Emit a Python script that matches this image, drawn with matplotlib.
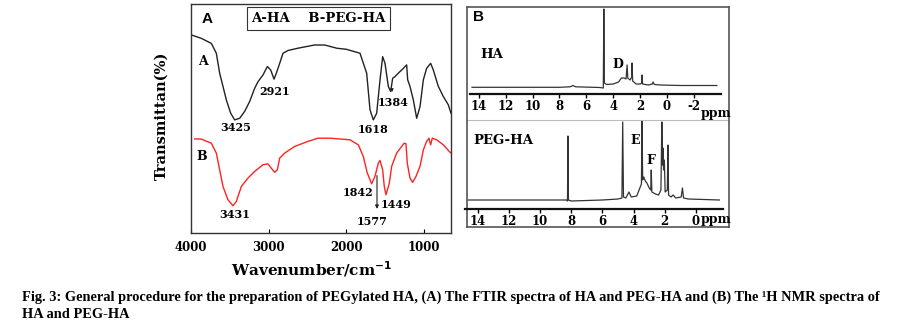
import matplotlib
matplotlib.use("Agg")
import matplotlib.pyplot as plt

# FTIR (panel A): wavenumber / transmittance
ha_wn = [3996, 3867, 3738, 3674, 3631, 3588, 3545, 3489, 3438, 3373, 3309, 3245, 3180, 3137,
         3073, 3017, 2974, 2931, 2901, 2858, 2815, 2751, 2622, 2408, 2279, 2124, 1996, 1824,
         1738, 1695, 1652, 1609, 1566, 1532, 1502, 1459, 1429, 1403, 1373, 1330, 1266, 1223,
         1210, 1180, 1137, 1094, 1051, 1008, 966, 914, 880, 815, 751, 687, 652]
ha_t = [86.5, 85.0, 82.8, 78.5, 69.8, 64.0, 58.1, 52.3, 49.4, 50.1, 53.1, 57.4, 63.2, 66.1,
        69.0, 72.7, 71.2, 67.2, 69.8, 74.1, 78.5, 79.7, 80.7, 82.1, 82.1, 80.7, 80.2, 78.5,
        69.8, 53.8, 49.4, 52.3, 66.9, 77.0, 74.1, 64.0, 61.8, 67.6, 68.3, 69.8, 71.9, 73.4,
        66.9, 64.0, 58.1, 50.1, 55.2, 66.9, 71.9, 74.1, 71.2, 64.0, 59.6, 56.0, 52.3]

peg_wn = [3953, 3867, 3738, 3674, 3631, 3588, 3524, 3459, 3416, 3352, 3266, 3180, 3073, 3009,
          2966, 2923, 2888, 2858, 2794, 2665, 2494, 2365, 2210, 1953, 1845, 1781, 1730, 1674,
          1631, 1588, 1566, 1532, 1511, 1489, 1446, 1416, 1352, 1287, 1257, 1232, 1215, 1180,
          1146, 1103, 1051, 1008, 966, 936, 914, 893, 837, 751, 674, 652]
peg_t = [41.1, 41.0, 39.2, 34.9, 27.6, 20.3, 14.5, 11.9, 13.8, 20.3, 24.0, 26.9, 29.8, 30.2,
         28.3, 26.5, 27.6, 32.7, 34.9, 37.8, 40.0, 41.4, 41.4, 40.7, 38.5, 33.4, 26.2, 21.5,
         24.7, 30.5, 31.7, 27.6, 20.3, 16.7, 21.8, 29.1, 34.9, 37.8, 39.2, 39.0, 30.5, 24.0,
         22.1, 24.7, 29.1, 36.3, 40.0, 41.4, 38.5, 41.4, 40.7, 38.5, 35.6, 34.9]

ir_ticks = [4000, 3000, 2000, 1000]
# peak labels: text, wavenumber, transmittance
ir_labels = ["3425", "2921", "1618", "1384", "3431", "1842", "1449", "1577"]
ir_label_wn = [3421, 2918, 1657, 1399, 3433, 1850, 1360, 1669]
ir_label_t = [45.9, 62.0, 45.0, 57.2, 8.0, 17.6, 12.4, 4.9]

# 1H NMR (panel B): ppm / intensity
ha_ppm = [14.5, 8.0, 7.2, 7.0, 6.8, 5.0, 4.74, 4.70, 4.66, 4.5, 4.0, 3.6, 3.4, 3.2, 3.05, 2.97,
          2.92, 2.75, 2.62, 2.60, 2.56, 2.3, 2.0, 1.88, 1.86, 1.82, 1.4, 1.1, 1.04, 0.95, 0.5,
          -1.0, -3.7]
ha_int = [-1.3, -1.3, -0.8, 0.5, -0.8, -1.5, -2, 77, 3, 1.5, 2, 4, 8, 8, 7, 21,
          8, 6, 9, 23, 5, 2, 2, 3, 11, 2, 1, 2, 4, 1.5, 1, 0.5, 0.5]

peg_ppm = [14.6, 9.0, 8.30, 8.24, 8.21, 8.18, 8.0, 6.0, 5.0, 4.75, 4.70, 4.65, 4.5, 4.3, 4.15,
           3.8, 3.6, 3.5, 3.46, 3.42, 3.35, 3.25, 3.15, 3.0, 2.9, 2.87, 2.83, 2.6, 2.4, 2.25,
           2.19, 2.15, 2.12, 2.08, 2.03, 1.98, 1.84, 1.80, 1.76, 1.6, 1.47, 1.3, 0.95, 0.87,
           0.80, 0.5, -1.5]
peg_int = [0, 0, 0, -1, 64, 0, -1, 0, 1, 2, 78, 3, 2, 8, 3,
           4, 12, 16, 79, 20, 23, 19, 17, 12, 10, 30, 8, 6, 5, 10,
           78, 35, 52, 30, 40, 8, 10, 55, 5, 3, 5, 2, 3, 12,
           2, 1, 0]

ha_nmr_ticks = [14, 12, 10, 8, 6, 4, 2, 0, -2]
peg_nmr_ticks = [14, 12, 10, 8, 6, 4, 2, 0]

W, H = 907, 323
SERIF = "DejaVu Serif"


def px_axes(fig, x0, y0, x1, y1):
    # pixel box (top-left origin) -> figure axes
    return fig.add_axes([x0 / W, 1 - y1 / H, (x1 - x0) / W, (y1 - y0) / H])


def px_text(fig, x, y, s, **kw):
    fig.text(x / W, 1 - y / H, s, **kw)


fig = plt.figure(figsize=(W / 100, H / 100), dpi=100)
fig.patch.set_facecolor("white")

# ---------------- panel A : FTIR ----------------
ax = px_axes(fig, 191, 4, 451, 233)
ax.plot(ha_wn, ha_t, color="#222222", lw=1.0)
ax.plot(peg_wn, peg_t, color="#ff2222", lw=1.0)
ax.set_xlim(4000, 652)
ax.set_ylim(0, 100)
ax.set_xticks(ir_ticks)
ax.set_xticklabels([str(t) for t in ir_ticks], fontfamily=SERIF, fontweight="bold", fontsize=8.5)
ax.set_yticks([])
ax.tick_params(axis="x", direction="in", length=3, pad=6)
for s in ax.spines.values():
    s.set_color("#333333")
    s.set_linewidth(1.0)
for lab, w, t in zip(ir_labels, ir_label_wn, ir_label_t):
    ax.text(w, t, lab, ha="center", va="center", fontfamily=SERIF, fontweight="bold", fontsize=8)
ax.text(3845, 74.7, "A", ha="center", va="center", fontfamily=SERIF, fontweight="bold", fontsize=9)
ax.text(3858, 33.3, "B", ha="center", va="center", fontfamily=SERIF, fontweight="bold", fontsize=9)
ax.annotate("", xy=(1605, 9.3), xytext=(1605, 26.3),
            arrowprops=dict(arrowstyle="-|>", color="#222222", lw=0.8, mutation_scale=5))
ax.annotate("", xy=(1412, 60.3), xytext=(1412, 64.0),
            arrowprops=dict(arrowstyle="-|>", color="#222222", lw=0.8, mutation_scale=4))
ax.text(0.04, 0.965, "A", transform=ax.transAxes, ha="left", va="top",
        fontfamily="Liberation Sans", fontweight="bold", fontsize=11)
ax.text(0.49, 0.937, "A-HA    B-PEG-HA", transform=ax.transAxes, ha="center", va="center",
        fontfamily=SERIF, fontweight="bold", fontsize=9.5,
        bbox=dict(boxstyle="square,pad=0.35", fc="white", ec="#333333", lw=0.8))
ax.set_ylabel("Transmittan(%)", fontfamily=SERIF, fontweight="bold", fontsize=10.5)
ax.yaxis.set_label_coords(-0.085, 0.51)
ax.set_xlabel("Wavenumber/cm$^{\\mathbf{-1}}$", fontfamily=SERIF, fontweight="bold", fontsize=11)
ax.xaxis.set_label_coords(0.465, -0.115)

# ---------------- panel B : NMR ----------------
frame = px_axes(fig, 467, 7, 729, 227)
frame.set_xlim(467, 729)
frame.set_ylim(227, 7)
frame.set_xticks([])
frame.set_yticks([])
for s in frame.spines.values():
    s.set_color("#555555")
    s.set_linewidth(1.2)
frame.axhline(120, color="#bbbbbb", lw=0.8)
frame.text(478, 17, "B", ha="center", va="center", fontfamily="Liberation Sans",
           fontweight="bold", fontsize=11)
frame.patch.set_alpha(0)

top = px_axes(fig, 470, 8, 721, 94)
top.plot(ha_ppm, ha_int, color="#333333", lw=0.9)
top.set_xlim(14.65, -4.01)
top.set_ylim(-8, 78)
bot = px_axes(fig, 465, 121, 723, 209)
bot.plot(peg_ppm, peg_int, color="#333333", lw=0.9)
bot.set_xlim(14.81, -1.73)
bot.set_ylim(-9, 79)

for a, ticks in ((top, ha_nmr_ticks), (bot, peg_nmr_ticks)):
    a.patch.set_alpha(0)
    for side in ("top", "left", "right"):
        a.spines[side].set_visible(False)
    a.spines["bottom"].set_linewidth(1.6)
    a.spines["bottom"].set_color("#111111")
    a.set_yticks([])
    a.set_xticks(ticks)
    a.set_xticklabels([str(t) for t in ticks], fontfamily=SERIF, fontweight="bold", fontsize=8.5)
    a.tick_params(axis="x", direction="out", length=3, width=1, pad=1)

top.text(13.0, 31, "HA", ha="center", va="center", fontfamily=SERIF, fontweight="bold", fontsize=9.5)
top.text(3.65, 21, "D", ha="center", va="center", fontfamily=SERIF, fontweight="bold", fontsize=9)
bot.text(12.35, 60, "PEG-HA", ha="center", va="center", fontfamily=SERIF, fontweight="bold", fontsize=9.5)
bot.text(3.9, 60, "E", ha="center", va="center", fontfamily=SERIF, fontweight="bold", fontsize=9)
bot.text(2.9, 40, "F", ha="center", va="center", fontfamily=SERIF, fontweight="bold", fontsize=9)
px_text(fig, 701, 113, "ppm", ha="left", va="center", fontfamily=SERIF, fontweight="bold", fontsize=9)
px_text(fig, 701, 219, "ppm", ha="left", va="center", fontfamily=SERIF, fontweight="bold", fontsize=9)

# ---------------- caption ----------------
cap1 = ("Fig. 3: General procedure for the preparation of PEGylated HA, (A) The FTIR spectra of HA "
        "and PEG-HA and (B) The \u00b9H NMR spectra of")
cap2 = "HA and PEG-HA"
px_text(fig, 22, 297, cap1, ha="left", va="center", fontfamily="Liberation Serif",
        fontweight="bold", fontsize=10.4)
px_text(fig, 22, 314, cap2, ha="left", va="center", fontfamily="Liberation Serif",
        fontweight="bold", fontsize=10.4)

fig.savefig("out.png", dpi=100, facecolor="white")
